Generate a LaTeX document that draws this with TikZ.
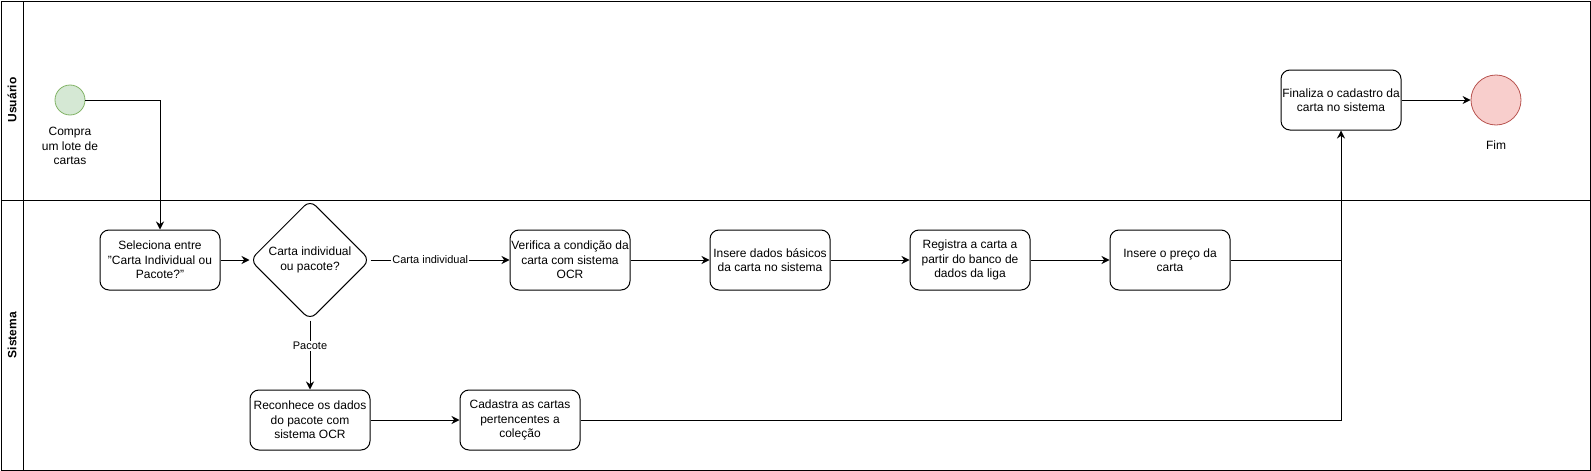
\documentclass[tikz,border=0pt]{standalone}
\usepackage{fontspec}
\setmainfont{Liberation Sans}
\usetikzlibrary{shapes.geometric,arrows.meta}
\begin{document}
\begin{tikzpicture}[x=1pt,y=-1pt,
  font=\fontsize{12}{14.4}\selectfont,
  task/.style={draw, line width=1pt, rounded corners=9pt, minimum width=120pt, minimum height=60pt, align=center, inner sep=1pt},
  decision/.style={draw, diamond, line width=1pt, rounded corners=8pt, minimum width=120pt, minimum height=120pt, aspect=1, align=center, inner sep=0pt},
  arr/.style={draw, line width=1pt, -{Stealth[length=8pt,width=8pt]}},
  plain/.style={draw, line width=1pt},
  lbl/.style={fill=white, font=\fontsize{11}{13}\selectfont, inner sep=1pt},
  lane/.style={font=\bfseries\fontsize{12}{14}\selectfont, rotate=90},
  freetext/.style={align=center, inner sep=0pt}
]
\useasboundingbox (0,0) rectangle (1591,471);
% pool
\draw[line width=1pt] (1,1) rectangle (1590,470);
\draw[line width=1pt] (1,200) -- (1590,200);
\draw[line width=1pt] (23,1) -- (23,470);
\node[lane] (lu) at (12,100) {Usuário};
\node[lane] (ls) at (12,335) {Sistema};

% nodes
\node[circle, draw={rgb,255:red,130;green,179;blue,102}, fill={rgb,255:red,213;green,232;blue,212}, line width=0.8pt, minimum size=30pt, inner sep=0pt] (start) at (70,100) {};
\node[freetext] (startlbl) at (70,146) {Compra\\um lote de\\cartas};

\node[task] (sel) at (160,260) {Seleciona entre\\"Carta Individual ou\\Pacote?”};
\node[decision] (dec) at (310,260) {Carta individual\\ou pacote?};
\node[task] (ver) at (570,260) {Verifica a condição da\\carta com sistema\\OCR};
\node[task] (ins) at (770,260) {Insere dados básicos\\da carta no sistema};
\node[task] (reg) at (970,260) {Registra a carta a\\partir do banco de\\dados da liga};
\node[task] (pre) at (1170,260) {Insere o preço da\\carta};
\node[task] (rec) at (310,420) {Reconhece os dados\\do pacote com\\sistema OCR};
\node[task] (cad) at (520,420) {Cadastra as cartas\\pertencentes a\\coleção};
\node[task] (fin) at (1341,100) {Finaliza o cadastro da\\carta no sistema};
\node[circle, draw={rgb,255:red,184;green,84;blue,80}, fill={rgb,255:red,248;green,206;blue,204}, line width=0.8pt, minimum size=50pt, inner sep=0pt] (fim) at (1496,100) {};
\node[freetext] (fimlbl) at (1496,145) {Fim};

% connectors
\draw[arr] (start.east) -| (sel.north);
\draw[arr] (sel) -- (dec);
\draw[arr] (dec) -- node[lbl, pos=0.43] {Carta individual} (ver);
\draw[arr] (ver) -- (ins);
\draw[arr] (ins) -- (reg);
\draw[arr] (reg) -- (pre);
\draw[arr] (dec) -- node[lbl, pos=0.37] {Pacote} (rec);
\draw[arr] (rec) -- (cad);
\draw[arr] (cad.east) -| (fin.south);
\draw[plain] (pre.east) -- (pre.east -| fin.south);
\draw[arr] (fin) -- (fim);
\end{tikzpicture}
\end{document}
